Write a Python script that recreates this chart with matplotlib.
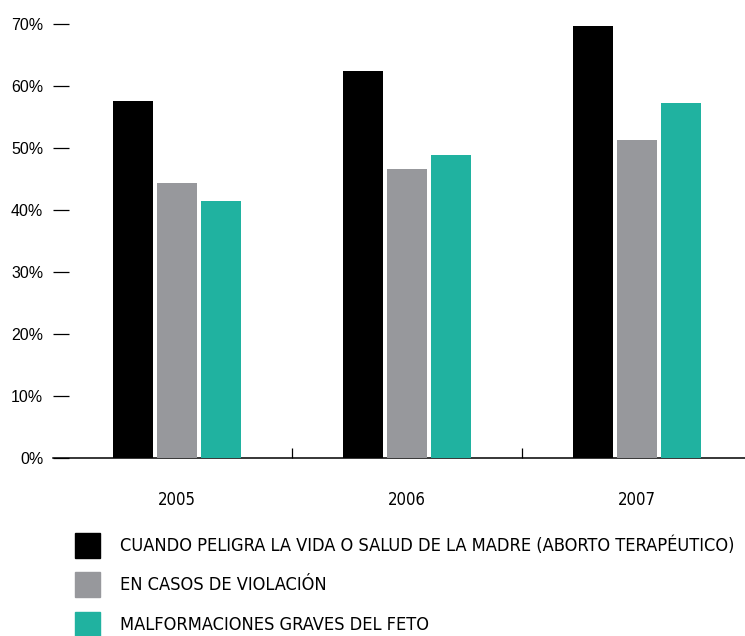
import matplotlib
matplotlib.use("Agg")
import matplotlib.pyplot as plt
from matplotlib import font_manager
from matplotlib.patches import Rectangle
import numpy as np

years = ["2005", "2006", "2007"]
series_labels = [
    "CUANDO PELIGRA LA VIDA O SALUD DE LA MADRE (ABORTO TERAPÉUTICO)",
    "EN CASOS DE VIOLACIÓN",
    "MALFORMACIONES GRAVES DEL FETO",
]
madre = [57.6, 62.4, 69.7]
violacion = [44.4, 46.6, 51.3]
feto = [41.5, 48.9, 57.3]
colors = ["#000000", "#97989c", "#20b2a0"]
y_ticks = [0, 10, 20, 30, 40, 50, 60, 70]

# police condensee si dispo (sinon DejaVu un peu plus petit)
cond = None
for f in font_manager.fontManager.ttflist:
    fn = f.fname.lower()
    if ("condensed" in fn or "narrow" in fn) and "bold" not in fn and "oblique" not in fn \
            and "italic" not in fn and "light" not in fn:
        cond = f.fname
        if "dejavusanscondensed.ttf" in fn or "narrow-regular" in fn:
            break
if cond:
    prop_leg = font_manager.FontProperties(fname=cond, size=13.1)
    prop_x = font_manager.FontProperties(fname=cond, size=12)
else:
    prop_leg = font_manager.FontProperties(family="DejaVu Sans", size=11.8)
    prop_x = font_manager.FontProperties(family="DejaVu Sans", size=11)

W, H = 745, 636
fig = plt.figure(figsize=(W / 100, H / 100), dpi=100)
ax = fig.add_axes([53 / W, (H - 458) / H, 1 - 53 / W, (458 - 24) / H])

x = np.arange(len(years))
step = 44 / 230
width = 40 / 230
for i, vals in enumerate([madre, violacion, feto]):
    ax.bar(x + (i - 1) * step, vals, width, color=colors[i], zorder=3)

ax.set_xlim((53 - 177) / 230, (745 - 177) / 230)
ax.set_ylim(0, 70)

for s in ["top", "right", "left"]:
    ax.spines[s].set_visible(False)
ax.spines["bottom"].set_linewidth(1.1)

ax.set_yticks(y_ticks)
ax.set_yticklabels([f"{t}%" for t in y_ticks], fontsize=11.5, family="Liberation Sans")
ax.tick_params(axis="y", direction="in", length=11.5, width=0.9, pad=7)

ax.set_xticks(x)
ax.set_xticklabels(years, fontproperties=prop_x)
ax.tick_params(axis="x", which="major", length=0, pad=24)
ax.set_xticks(x[:-1] + 0.5, minor=True)
ax.tick_params(axis="x", which="minor", direction="in", length=7.5, width=0.9)

# legende a la main
for i, lab in enumerate(series_labels):
    top = [533, 572, 612][i]
    fig.add_artist(Rectangle((75 / W, (H - top - 25) / H), 25 / W, 25 / H,
                             color=colors[i], transform=fig.transFigure))
    fig.text(120 / W, (H - top - 12.5) / H, lab, fontproperties=prop_leg,
             va="center", ha="left")

fig.savefig("out.png", dpi=100)
